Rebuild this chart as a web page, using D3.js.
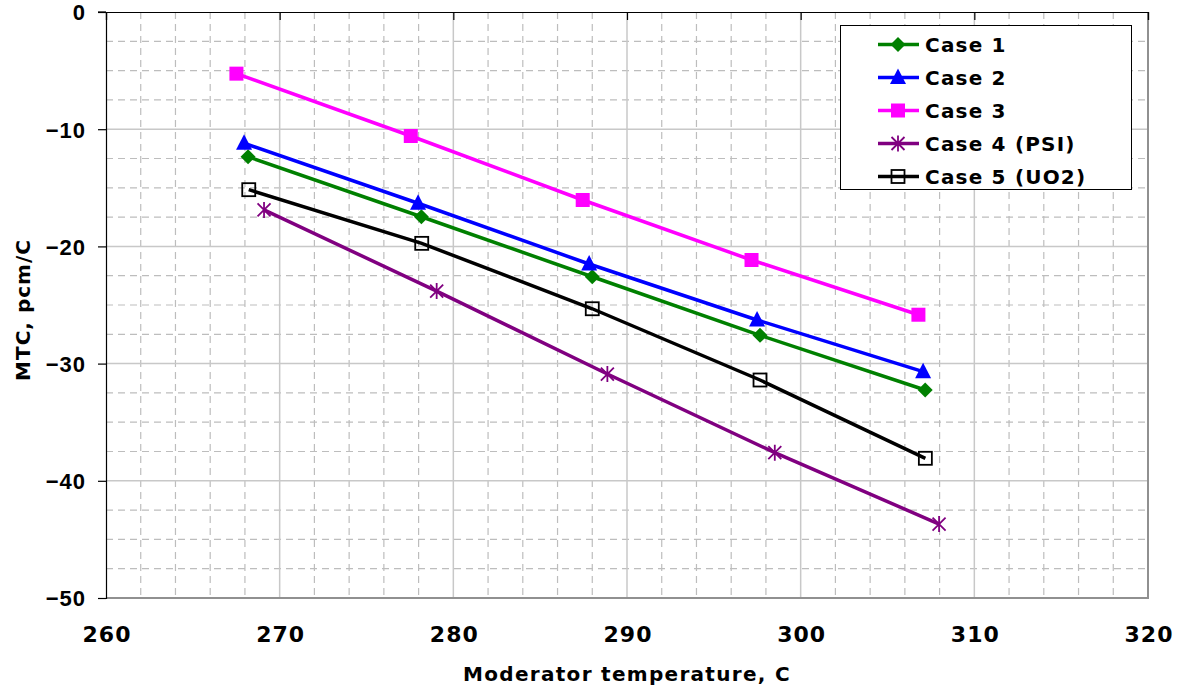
<!DOCTYPE html>
<html>
<head>
<meta charset="utf-8">
<script src="https://cdn.jsdelivr.net/npm/d3@7"></script>
<style>
  html, body { margin: 0; padding: 0; background: #fff; }
  svg { display: block; font-family: "DejaVu Sans", Verdana, sans-serif; }
</style>
</head>
<body>
<svg id="chart" width="1181" height="691"></svg>
<script>
// ---- data ----
const seriesNames = ["Case 1", "Case 2", "Case 3", "Case 4 (PSI)", "Case 5 (UO2)"];
const case1X = [268.18, 278.16, 288.00, 297.66, 307.17];
const case1Y = [-12.35, -17.47, -22.59, -27.59, -32.25];
const case2X = [267.95, 277.97, 287.82, 297.49, 307.05];
const case2Y = [-11.20, -16.32, -21.50, -26.28, -30.69];
const case3X = [267.51, 277.55, 287.45, 297.17, 306.78];
const case3Y = [-5.26, -10.58, -16.04, -21.16, -25.83];
const case4X = [269.10, 279.04, 288.87, 298.51, 307.97];
const case4Y = [-16.89, -23.81, -30.89, -37.60, -43.69];
const case5X = [268.22, 278.18, 288.00, 297.66, 307.18];
const case5Y = [-15.16, -19.74, -25.32, -31.40, -38.08];
const xTicks = [260, 270, 280, 290, 300, 310, 320];
const yTicks = [0, -10, -20, -30, -40, -50];
const xTitle = "Moderator temperature, C";
const yTitle = "MTC, pcm/C";

// ---- styles ----
const colors = ["#008000", "#0000FF", "#FF00FF", "#800080", "#000000"];
const markers = ["diamond", "triangle", "square", "star", "opensquare"];

const seriesX = [case1X, case2X, case3X, case4X, case5X];
const seriesY = [case1Y, case2Y, case3Y, case4Y, case5Y];
const series = seriesNames.map((n, i) => ({
  name: n, color: colors[i], marker: markers[i],
  pts: seriesX[i].map((x, j) => ({x, y: seriesY[i][j]}))
}));

const svg = d3.select("#chart");
const L = 106, R = 1148, T = 12, B = 598;
const x = d3.scaleLinear().domain([260, 320]).range([L, R]);
const y = d3.scaleLinear().domain([-50, 0]).range([B, T]);

// minor grid (dashed)
const g = svg.append("g");
const xMinor = d3.range(262, 320, 2).filter(v => v % 10 !== 0);
const yMinor = d3.range(-47.5, 0, 2.5).filter(v => v % 10 !== 0);
g.selectAll(".xm").data(xMinor).enter().append("line")
  .attr("x1", d => x(d)).attr("x2", d => x(d)).attr("y1", T).attr("y2", B)
  .attr("stroke", "#bdbdbd").attr("stroke-width", 1.2).attr("stroke-dasharray", "7,5");
g.selectAll(".ym").data(yMinor).enter().append("line")
  .attr("x1", L).attr("x2", R).attr("y1", d => y(d)).attr("y2", d => y(d))
  .attr("stroke", "#bdbdbd").attr("stroke-width", 1.2).attr("stroke-dasharray", "7,5");
// major grid
g.selectAll(".xM").data(xTicks.slice(1, -1)).enter().append("line")
  .attr("x1", d => x(d)).attr("x2", d => x(d)).attr("y1", T).attr("y2", B)
  .attr("stroke", "#c8c8c8").attr("stroke-width", 1.5);
g.selectAll(".yM").data(yTicks.slice(1, -1)).enter().append("line")
  .attr("x1", L).attr("x2", R).attr("y1", d => y(d)).attr("y2", d => y(d))
  .attr("stroke", "#c8c8c8").attr("stroke-width", 1.5);

// plot border right & bottom
svg.append("line").attr("x1", R).attr("x2", R).attr("y1", T).attr("y2", B + 1)
  .attr("stroke", "#909090").attr("stroke-width", 2);
svg.append("line").attr("x1", L).attr("x2", R + 1).attr("y1", B).attr("y2", B)
  .attr("stroke", "#909090").attr("stroke-width", 2);

// y axis (left)
const yAxis = d3.axisLeft(y).tickValues(yTicks).tickSize(8).tickPadding(12).tickFormat(d3.format("d"));
const ya = svg.append("g").attr("transform", `translate(${L},0)`).call(yAxis);
ya.select(".domain").attr("stroke", "#000").attr("stroke-width", 1.2);
ya.selectAll(".tick line").attr("stroke", "#000").attr("stroke-width", 1.2);
ya.selectAll(".tick text").attr("font-size", 22).attr("font-weight", "bold")
  .attr("fill", "#000").attr("letter-spacing", "1px").attr("dy", "0.36em");

// x axis line at top (y = 0) with ticks pointing down
const xAxisTop = d3.axisBottom(x).tickValues(xTicks).tickSize(8).tickFormat("");
const xa = svg.append("g").attr("transform", `translate(0,${T})`).call(xAxisTop);
xa.select(".domain").attr("stroke", "#000").attr("stroke-width", 1.2);
xa.selectAll(".tick line").attr("stroke", "#000").attr("stroke-width", 1.2);
svg.append("line").attr("x1", L - 8).attr("x2", L).attr("y1", T).attr("y2", T)
  .attr("stroke", "#000").attr("stroke-width", 1.2);

// x tick labels (low)
svg.append("g").selectAll("text").data(xTicks).enter().append("text")
  .attr("x", d => x(d) + 1).attr("y", 642)
  .attr("text-anchor", "middle").attr("font-size", 22).attr("font-weight", "bold")
  .attr("letter-spacing", "1px").text(d => d);

// axis titles
svg.append("text").attr("x", 627).attr("y", 681).attr("text-anchor", "middle")
  .attr("font-size", 20).attr("font-weight", "bold").attr("letter-spacing", "1.3px").text(xTitle);
svg.append("text").attr("transform", "translate(30,310) rotate(-90)").attr("text-anchor", "middle")
  .attr("font-size", 20).attr("font-weight", "bold").attr("letter-spacing", "1px").text(yTitle);

// marker drawing
function drawMarker(sel, type, color) {
  if (type === "diamond") {
    sel.append("path").attr("d", "M0,-7.5 L7.5,0 L0,7.5 L-7.5,0 Z").attr("fill", color);
  } else if (type === "triangle") {
    sel.append("path").attr("d", "M0,-9 L8,6.5 L-8,6.5 Z").attr("fill", color);
  } else if (type === "square") {
    sel.append("rect").attr("x", -7).attr("y", -7).attr("width", 14).attr("height", 14).attr("fill", color);
  } else if (type === "opensquare") {
    sel.append("rect").attr("x", -6.5).attr("y", -6.5).attr("width", 13).attr("height", 13)
      .attr("fill", "none").attr("stroke", color).attr("stroke-width", 1.8);
  } else if (type === "star") {
    const r = 8, d = 6.5;
    sel.append("path").attr("d", `M0,${-r} L0,${r} M${-d},${-d} L${d},${d} M${-d},${d} L${d},${-d}`)
      .attr("stroke", color).attr("stroke-width", 1.8).attr("fill", "none");
  }
}

const line = d3.line().x(d => x(d.x)).y(d => y(d.y));
series.forEach(s => {
  svg.append("path").datum(s.pts).attr("d", line).attr("fill", "none")
    .attr("stroke", s.color).attr("stroke-width", 3.5);
});
series.forEach(s => {
  s.pts.forEach(p => {
    const m = svg.append("g").attr("transform", `translate(${x(p.x)},${y(p.y)})`);
    drawMarker(m, s.marker, s.color);
  });
});

// legend
const lg = svg.append("g");
lg.append("rect").attr("x", 840.5).attr("y", 25.5).attr("width", 291).attr("height", 164)
  .attr("fill", "#fff").attr("stroke", "#000").attr("stroke-width", 1);
series.forEach((s, i) => {
  const cy = 44.5 + i * 33;
  lg.append("line").attr("x1", 878).attr("x2", 919).attr("y1", cy).attr("y2", cy)
    .attr("stroke", s.color).attr("stroke-width", 3.5);
  const m = lg.append("g").attr("transform", `translate(898,${cy})`);
  drawMarker(m, s.marker, s.color);
  lg.append("text").attr("x", 925).attr("y", cy + 7.5).attr("font-size", 20)
    .attr("font-weight", "bold").attr("letter-spacing", "1.2px").text(s.name);
});
</script>
</body>
</html>
